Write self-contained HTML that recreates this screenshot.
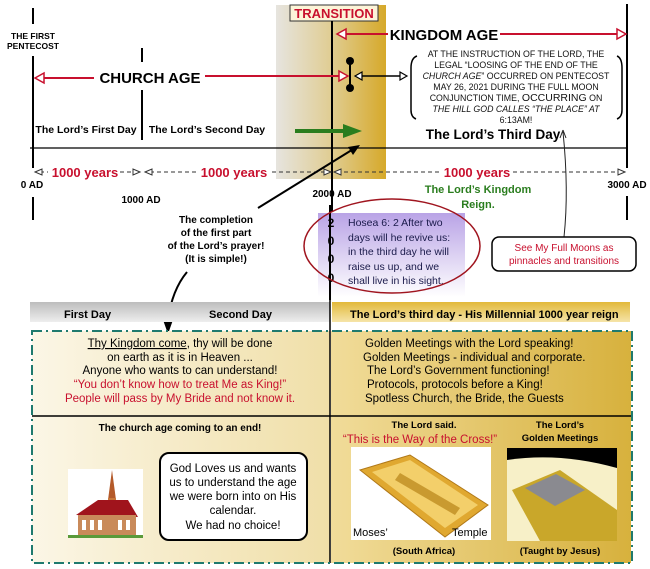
<!DOCTYPE html>
<html><head><meta charset="utf-8"><style>
body{margin:0;background:#fff;}
svg{display:block;font-family:"Liberation Sans",sans-serif;}
</style></head><body>
<svg width="650" height="569" viewBox="0 0 650 569" xmlns="http://www.w3.org/2000/svg">
<defs>
<linearGradient id="tr" x1="0" x2="1"><stop offset="0" stop-color="#e6e4df"/><stop offset="0.5" stop-color="#e0cd93"/><stop offset="1" stop-color="#d6a92a"/></linearGradient>
<linearGradient id="hl" x1="0" y1="0" x2="0" y2="1"><stop offset="0" stop-color="#bdbdbd"/><stop offset="1" stop-color="#eeeeee"/></linearGradient>
<linearGradient id="hr" x1="0" y1="0" x2="0" y2="1"><stop offset="0" stop-color="#e2b93a"/><stop offset="1" stop-color="#f5e4a8"/></linearGradient>
<linearGradient id="bl" x1="0" x2="1"><stop offset="0" stop-color="#fbf6e6"/><stop offset="1" stop-color="#f0dfa8"/></linearGradient>
<linearGradient id="br" x1="0" x2="1"><stop offset="0" stop-color="#f1dc9a"/><stop offset="1" stop-color="#d7b13d"/></linearGradient>
<linearGradient id="pu" x1="0" y1="0" x2="0" y2="1"><stop offset="0" stop-color="#b9a3e6"/><stop offset="1" stop-color="#ffffff"/></linearGradient>
</defs>

<rect x="276" y="5" width="110" height="174" fill="url(#tr)"/>
<rect x="290" y="5" width="88" height="16" fill="#fdf4d8" stroke="#333" stroke-width="1"/>
<text x="334" y="18" font-size="13" font-weight="bold" fill="#c8102e" text-anchor="middle">TRANSITION</text>

<g stroke="#000" stroke-width="2">
<line x1="332" y1="21" x2="332" y2="212"/>
<line x1="33" y1="8" x2="33" y2="24"/>
<line x1="33" y1="56" x2="33" y2="168"/>
<line x1="33" y1="197" x2="33" y2="220"/>
<line x1="142" y1="48" x2="142" y2="62"/>
<line x1="142" y1="90" x2="142" y2="140"/>
<line x1="627" y1="4" x2="627" y2="168"/>
<line x1="627" y1="196" x2="627" y2="220"/>
</g>
<line x1="30" y1="148" x2="628" y2="148" stroke="#000" stroke-width="1.2"/>

<text x="33" y="39" font-size="8.5" font-weight="bold" text-anchor="middle">THE FIRST</text>
<text x="33" y="49" font-size="8.5" font-weight="bold" text-anchor="middle">PENTECOST</text>

<g stroke="#c8102e" stroke-width="2" fill="#fff">
<line x1="342" y1="34" x2="388" y2="34"/>
<line x1="500" y1="34" x2="618" y2="34"/>
<line x1="40" y1="78" x2="94" y2="78"/>
<line x1="205" y1="76" x2="340" y2="76"/>
<path d="M337,34 L346,29 L346,39 Z" stroke-width="1.5"/>
<path d="M626,34 L617,29 L617,39 Z" stroke-width="1.5"/>
<path d="M35,78 L44,73 L44,83 Z" stroke-width="1.5"/>
<path d="M348,76 L339,71 L339,81 Z" stroke-width="1.5"/>
</g>
<text x="444" y="40" font-size="15" font-weight="bold" text-anchor="middle">KINGDOM AGE</text>
<text x="150" y="83" font-size="15" font-weight="bold" text-anchor="middle">CHURCH AGE</text>

<line x1="350" y1="61" x2="350" y2="88" stroke="#000" stroke-width="2"/>
<circle cx="350" cy="61" r="4"/><circle cx="350" cy="88" r="4"/>
<line x1="358" y1="76" x2="402" y2="76" stroke="#000" stroke-width="1.5"/>
<path d="M355,76 L362,72 L362,80 Z" fill="#fff" stroke="#000" stroke-width="1.2"/>
<path d="M407,76 L400,72 L400,80 Z" fill="#fff" stroke="#000" stroke-width="1.2"/>

<path d="M417,56 Q411,58 411,68 L411,110 Q411,117 416,119" fill="none" stroke="#000" stroke-width="1.5"/>
<path d="M617,56 Q622,58 622,68 L622,110 Q622,117 617,119" fill="none" stroke="#000" stroke-width="1.5"/>
<g font-size="8.8" text-anchor="middle" fill="#111">
<text x="516" y="57">AT THE INSTRUCTION OF THE LORD, THE</text>
<text x="516" y="68">LEGAL “LOOSING OF THE END OF THE</text>
<text x="516" y="79"><tspan font-style="italic">CHURCH AGE</tspan>” OCCURRED ON PENTECOST</text>
<text x="516" y="90">MAY 26, 2021 DURING THE FULL MOON</text>
<text x="516" y="101">CONJUNCTION TIME, <tspan font-size="10.5">OCCURRING</tspan> ON</text>
<text x="516" y="112" font-style="italic">THE HILL GOD CALLES “THE PLACE” AT</text>
<text x="516" y="123">6:13AM!</text>
</g>
<text x="493" y="139" font-size="13.5" font-weight="bold" text-anchor="middle">The Lord’s Third Day</text>

<text x="86" y="133" font-size="10.5" font-weight="bold" text-anchor="middle">The Lord’s First Day</text>
<text x="207" y="133" font-size="10.5" font-weight="bold" text-anchor="middle">The Lord’s Second Day</text>

<line x1="295" y1="131" x2="345" y2="131" stroke="#2a7d1e" stroke-width="4"/>
<path d="M343,124 L362,131 L343,138 Z" fill="#2a7d1e"/>

<path d="M564,237 Q569,190 563,132" fill="none" stroke="#222" stroke-width="1"/>
<path d="M563,130 L560,138 M563,130 L566,138" stroke="#222" stroke-width="1"/>

<g stroke="#333" stroke-width="1" stroke-dasharray="4,3">
<line x1="40" y1="172" x2="48" y2="172"/>
<line x1="120" y1="172" x2="136" y2="172"/>
<line x1="150" y1="172" x2="196" y2="172"/>
<line x1="272" y1="172" x2="330" y2="172"/>
<line x1="337" y1="172" x2="440" y2="172"/>
<line x1="513" y1="172" x2="620" y2="172"/>
</g>
<g fill="#fff" stroke="#333" stroke-width="1">
<path d="M35,172 L42,169 L42,175 Z"/><path d="M140,172 L133,169 L133,175 Z"/>
<path d="M145,172 L152,169 L152,175 Z"/><path d="M331,172 L324,169 L324,175 Z"/>
<path d="M334,172 L341,169 L341,175 Z"/><path d="M625,172 L618,169 L618,175 Z"/>
</g>
<g font-size="13" font-weight="bold" fill="#c8102e" text-anchor="middle">
<text x="85" y="177">1000 years</text><text x="234" y="177">1000 years</text><text x="477" y="177">1000 years</text>
</g>
<g font-size="10" font-weight="bold" text-anchor="middle">
<text x="32" y="188">0 AD</text><text x="141" y="203">1000 AD</text><text x="332" y="197">2000 AD</text><text x="627" y="188">3000 AD</text>
</g>
<text x="478" y="193" font-size="11" font-weight="bold" fill="#2a7d1e" text-anchor="middle">The Lord’s Kingdom</text>
<text x="478" y="208" font-size="11" font-weight="bold" fill="#2a7d1e" text-anchor="middle">Reign.</text>

<line x1="258" y1="208" x2="355" y2="148" stroke="#000" stroke-width="2"/>
<path d="M360,145 L348,147 L353,155 Z" fill="#000"/>

<g font-size="10" font-weight="bold" text-anchor="middle">
<text x="216" y="223">The completion</text><text x="216" y="236">of the first part</text>
<text x="216" y="249">of the Lord’s prayer!</text><text x="216" y="262">(It is simple!)</text>
</g>
<path d="M187,272 Q172,290 168,320" fill="none" stroke="#000" stroke-width="2"/>
<path d="M168,334 L162,317 L174,317 Z"/>

<rect x="318" y="213" width="147" height="84" fill="url(#pu)"/>
<line x1="330" y1="205" x2="330" y2="300" stroke="#000" stroke-width="2"/>
<g font-size="12" font-weight="bold" text-anchor="middle" fill="#000"><text x="331" y="227">2</text><text x="331" y="245">0</text><text x="331" y="263">0</text><text x="331" y="282">0</text></g>
<g font-size="10.5" fill="#1a1a4a" textLength="110">
<text x="348" y="226">Hosea 6: 2  After two</text><text x="348" y="241">days will he revive us:</text>
<text x="348" y="255">in the third day he will</text><text x="348" y="270">raise us up, and we</text>
<text x="348" y="284">shall live in his sight.</text>
</g>
<ellipse cx="392" cy="246" rx="88" ry="47" fill="none" stroke="#a0151f" stroke-width="1.5"/>

<rect x="492" y="237" width="144" height="34" rx="7" fill="#fff" stroke="#000" stroke-width="1.5"/>
<text x="564" y="251" font-size="10" fill="#c8102e" text-anchor="middle">See My Full Moons as</text>
<text x="564" y="264" font-size="10" fill="#c8102e" text-anchor="middle">pinnacles and transitions</text>

<rect x="30" y="302" width="300" height="20" fill="url(#hl)"/>
<rect x="332" y="302" width="298" height="20" fill="url(#hr)"/>
<g font-size="11" font-weight="bold">
<text x="64" y="318">First Day</text><text x="209" y="318">Second Day</text>
<text x="350" y="318">The Lord’s third day - His Millennial 1000 year reign</text>
</g>

<rect x="32" y="331" width="298" height="232" fill="url(#bl)"/>
<rect x="331" y="331" width="300" height="232" fill="url(#br)"/>
<line x1="330" y1="300" x2="330" y2="563" stroke="#000" stroke-width="1.5"/>
<line x1="32" y1="416" x2="632" y2="416" stroke="#000" stroke-width="1.5"/>
<rect x="32" y="331" width="600" height="232" fill="none" stroke="#1f7a6e" stroke-width="2" stroke-dasharray="10,4,2,4"/>

<g font-size="11.5" text-anchor="middle">
<text x="180" y="347"><tspan text-decoration="underline">Thy Kingdom come</tspan>, thy will be done</text>
<text x="180" y="361">on earth as it is in Heaven ...</text>
<text x="180" y="374">Anyone who wants to can understand!</text>
<text x="180" y="388" fill="#c8102e">“You don’t know how to treat Me as King!”</text>
<text x="180" y="402" fill="#c8102e">People will pass by My Bride and not know it.</text>
</g>
<g font-size="11.5">
<text x="365" y="347">Golden Meetings with the Lord speaking!</text>
<text x="363" y="361">Golden Meetings - individual and corporate.</text>
<text x="367" y="374">The Lord’s Government functioning!</text>
<text x="367" y="388">Protocols, protocols before a King!</text>
<text x="365" y="402">Spotless Church, the Bride, the Guests</text>
</g>

<text x="180" y="431" font-size="10" font-weight="bold" text-anchor="middle">The church age coming to an end!</text>
<rect x="68" y="469" width="75" height="69" fill="#fff"/>
<path d="M112,470 L108,500 L116,500 Z" fill="#b45a2a"/>
<rect x="108" y="498" width="8" height="14" fill="#c8783a"/>
<path d="M76,515 L98,500 L128,500 L138,517 Z" fill="#a0141c"/>
<rect x="78" y="515" width="58" height="20" fill="#c98a5a"/>
<g fill="#fff"><rect x="82" y="520" width="4" height="10"/><rect x="90" y="520" width="4" height="10"/><rect x="98" y="520" width="4" height="10"/><rect x="118" y="520" width="4" height="10"/><rect x="126" y="520" width="4" height="10"/></g>
<rect x="68" y="535" width="75" height="3" fill="#5a9a3a"/>
<rect x="160" y="453" width="147" height="87" rx="9" fill="#fff" stroke="#000" stroke-width="2"/>
<g font-size="11.5" text-anchor="middle">
<text x="233" y="472">God Loves us and wants</text><text x="233" y="486">us to understand the age</text>
<text x="233" y="500">we were born into on His</text><text x="233" y="514">calendar.</text><text x="233" y="529">We had no choice!</text>
</g>

<text x="424" y="428" font-size="9.5" font-weight="bold" text-anchor="middle">The Lord said.</text>
<text x="420" y="443" font-size="11.5" fill="#c8102e" text-anchor="middle">“This is the Way of the Cross!”</text>
<text x="560" y="428" font-size="9.5" font-weight="bold" text-anchor="middle">The Lord’s</text>
<text x="560" y="441" font-size="9.5" font-weight="bold" text-anchor="middle">Golden Meetings</text>
<rect x="351" y="447" width="140" height="93" fill="#fff"/>
<path d="M360,470 L410,455 L488,505 L445,537 Z" fill="#e0a830" stroke="#b07818"/>
<path d="M372,472 L410,460 L478,505 L445,528 Z" fill="#f3cf6a"/>
<path d="M395,480 L455,515 L460,508 L400,473 Z" fill="#c99a30"/>
<text x="353" y="536" font-size="11">Moses’</text><text x="452" y="536" font-size="11">Temple</text>
<rect x="507" y="448" width="110" height="93" fill="#000"/>
<path d="M507,460 Q560,452 617,468 L617,541 L507,541 Z" fill="#f7f0c8"/>
<path d="M512,490 L560,470 L617,510 L617,541 L540,541 Z" fill="#c9a72a"/>
<path d="M525,488 L556,474 L585,490 L555,506 Z" fill="#8a8a90"/>
<text x="424" y="554" font-size="9.5" font-weight="bold" text-anchor="middle">(South Africa)</text>
<text x="560" y="554" font-size="9.5" font-weight="bold" text-anchor="middle">(Taught by Jesus)</text>
</svg>
</body></html>
